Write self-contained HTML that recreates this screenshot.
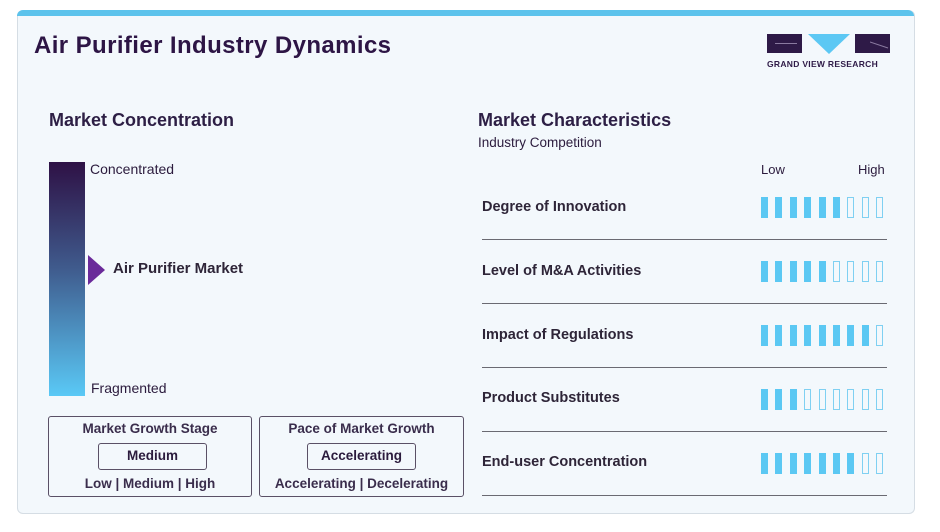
<!DOCTYPE html>
<html><head><meta charset="utf-8"><style>
body{margin:0;width:940px;height:532px;background:#fff;font-family:"Liberation Sans",Arial,sans-serif;color:#2b1b3d;position:relative;overflow:hidden}
.a{position:absolute;white-space:nowrap}
.card{position:absolute;left:17px;top:10px;width:896px;height:503px;background:#f3f8fc;border:1px solid #d5dde4;border-top:none;border-radius:6px;overflow:hidden}
.top{position:absolute;left:17px;top:10px;width:897px;height:6px;background:#5cc3ec;border-radius:6px 6px 0 0}
.bx{position:absolute;border:1.3px solid #5a5066;border-radius:3px}
.bar{position:absolute;width:7px;height:21px;box-sizing:border-box}
.f{background:#5bc8f3}.e{border:1px solid #7fd0f2}
.ln{position:absolute;left:482px;width:405px;height:1px;background:#6a6a72}
.lab{font-size:14.5px;font-weight:bold;color:#2e2538}
</style></head><body>
<div class="card"></div><div class="top"></div>
<div class="a" style="left:34px;top:32px;font-size:24px;font-weight:bold;color:#2d1545;letter-spacing:0.4px">Air Purifier Industry Dynamics</div>
<div class="a" style="left:767px;top:34px;width:35px;height:19px;background:#2e1a47"></div>
<div class="a" style="left:775px;top:43px;width:22px;height:1px;background:#8a7aa0"></div>
<svg class="a" style="left:808px;top:34px" width="42" height="20"><polygon points="0,0 42,0 21,20" fill="#5cc8f4"/></svg>
<div class="a" style="left:855px;top:34px;width:35px;height:19px;background:#2e1a47"></div>
<svg class="a" style="left:870px;top:40px" width="20" height="10"><line x1="0" y1="2" x2="18" y2="8" stroke="#8a7aa0"/></svg>
<div class="a" style="left:767px;top:59px;font-size:8.5px;font-weight:bold;color:#2e1a47;letter-spacing:0.3px">GRAND VIEW RESEARCH</div>

<div class="a" style="left:49px;top:110px;font-size:18px;font-weight:bold;color:#2d1f45">Market Concentration</div>
<div class="a" style="left:49px;top:162px;width:36px;height:234px;background:linear-gradient(#2e1145,#3f5a8c 45%,#5ac9f6)"></div>
<div class="a" style="left:90px;top:161px;font-size:14px">Concentrated</div>
<div class="a" style="left:91px;top:380px;font-size:14px">Fragmented</div>
<svg class="a" style="left:88px;top:255px" width="18" height="30"><polygon points="0,0 17,15 0,30" fill="#6a2a9a"/></svg>
<div class="a lab" style="left:113px;top:260px;font-size:15px">Air Purifier Market</div>

<div class="bx" style="left:48px;top:416px;width:202px;height:79px"></div>
<div class="a" style="left:48px;top:421px;width:204px;text-align:center;font-size:13.5px;font-weight:bold;color:#3a2d4c">Market Growth Stage</div>
<div class="bx" style="left:98px;top:443px;width:107px;height:25px"></div>
<div class="a" style="left:98px;top:448px;width:109px;text-align:center;font-size:13.5px;font-weight:bold">Medium</div>
<div class="a" style="left:48px;top:476px;width:204px;text-align:center;font-size:13.5px;font-weight:bold;color:#3a2d4c">Low | Medium | High</div>
<div class="bx" style="left:259px;top:416px;width:203px;height:79px"></div>
<div class="a" style="left:259px;top:421px;width:205px;text-align:center;font-size:13.5px;font-weight:bold;color:#3a2d4c">Pace of Market Growth</div>
<div class="bx" style="left:307px;top:443px;width:107px;height:25px"></div>
<div class="a" style="left:307px;top:448px;width:109px;text-align:center;font-size:13.5px;font-weight:bold">Accelerating</div>
<div class="a" style="left:259px;top:476px;width:205px;text-align:center;font-size:13.5px;font-weight:bold;color:#3a2d4c">Accelerating | Decelerating</div>

<div class="a" style="left:478px;top:110px;font-size:18px;font-weight:bold;color:#2d1f45">Market Characteristics</div>
<div class="a" style="left:478px;top:135px;font-size:13.5px">Industry Competition</div>
<div class="a" style="left:761px;top:162px;font-size:13px">Low</div>
<div class="a" style="left:858px;top:162px;font-size:13px">High</div>

<div class="a lab" style="left:482px;top:199px">Degree of Innovation</div>
<div class="a lab" style="left:482px;top:263px">Level of M&amp;A Activities</div>
<div class="a lab" style="left:482px;top:327px">Impact of Regulations</div>
<div class="a lab" style="left:482px;top:390px">Product Substitutes</div>
<div class="a lab" style="left:482px;top:454px">End-user Concentration</div>
<div class="ln" style="top:239px"></div><div class="ln" style="top:303px"></div><div class="ln" style="top:367px"></div><div class="ln" style="top:431px"></div><div class="ln" style="top:495px"></div>
<div id="bars"></div>
<script>
var rows=[[197,6],[261,5],[325,8],[389,3],[453,7]],h='';
rows.forEach(function(r){for(var i=0;i<9;i++){h+='<div class="bar '+(i<r[1]?'f':'e')+'" style="left:'+Math.round(761+i*14.4)+'px;top:'+r[0]+'px"></div>';}});
document.getElementById('bars').innerHTML=h;
</script>
</body></html>
